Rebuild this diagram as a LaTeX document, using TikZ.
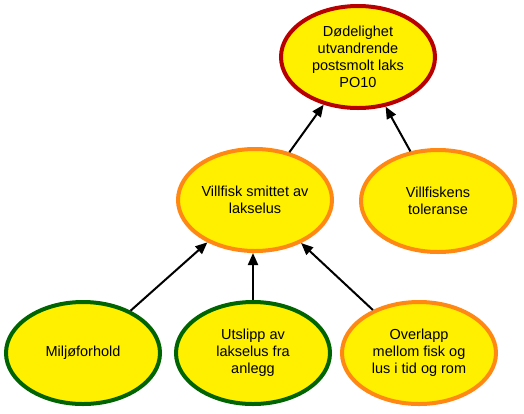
\documentclass[tikz,border=0pt]{standalone}
\usepackage{fontspec}
\setmainfont{Liberation Sans}
\usetikzlibrary{shapes.geometric,arrows.meta}
\definecolor{fillyel}{RGB}{255,240,0}
\definecolor{bred}{RGB}{185,0,0}
\definecolor{borange}{RGB}{255,135,20}
\definecolor{bgreen}{RGB}{0,100,0}
\tikzset{
  ell/.style={ellipse, fill=fillyel, line width=4pt, minimum width=154pt, minimum height=102pt,
    inner sep=-25pt, align=center,
    font=\fontsize{14.5pt}{17pt}\selectfont},
  redell/.style={ell, draw=bred},
  orell/.style={ell, draw=borange},
  grell/.style={ell, draw=bgreen},
  conn/.style={line width=2pt, -{Triangle[length=12pt,width=10pt]}},
}
\begin{document}
\begin{tikzpicture}[x=1pt,y=-1pt]
\useasboundingbox (0,0) rectangle (524,413);
\node[redell] (top) at (358,57) {Dødelighet\\utvandrende\\postsmolt laks\\PO10};
\node[orell] (vs) at (255,200) {Villfisk smittet av\\lakselus};
\node[orell] (vt) at (438,201) {Villfiskens\\toleranse};
\node[grell] (mf) at (83,353) {Miljøforhold};
\node[grell] (ut) at (253,353) {Utslipp av\\lakselus fra\\anlegg};
\node[orell] (ov) at (419,353) {Overlapp\\mellom fisk og\\lus i tid og rom};
\draw[conn] (vs) -- (top);
\draw[conn] (vt) -- (top);
\draw[conn] (mf) -- (vs);
\draw[conn] (ut.north) -- (ut.north |- vs.south);
\draw[conn] (ov) -- (vs);
\end{tikzpicture}
\end{document}
